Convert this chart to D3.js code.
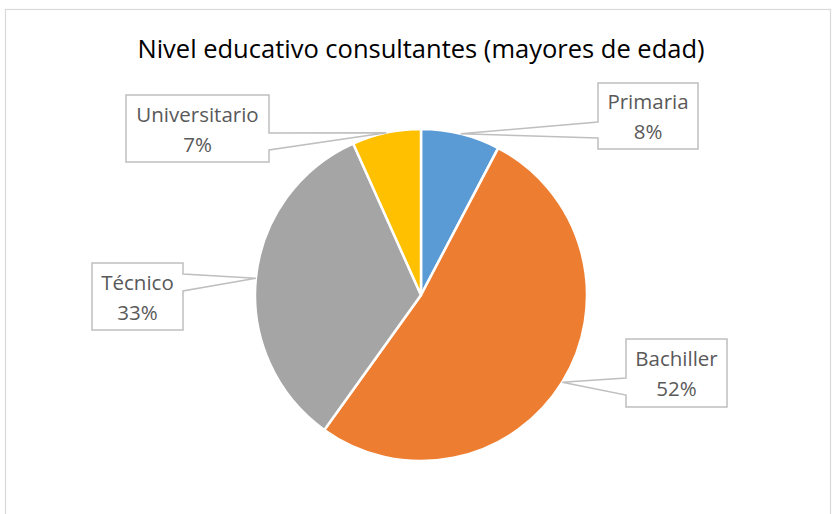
<!DOCTYPE html>
<html>
<head>
<meta charset="utf-8">
<script src="https://cdn.jsdelivr.net/npm/d3@7"></script>
<style>
  body { margin: 0; background: #fff; }
  text { font-family: "Open Sans", sans-serif; }
  .title { font-size: 25.5px; fill: #000; }
  .lbl { font-size: 20.5px; fill: #595959; }
</style>
</head>
<body>
<svg width="832" height="514"></svg>
<script>
const categories = ["Primaria","Bachiller","Técnico","Universitario"]
const values = [7.7, 52.2, 33.4, 6.7]
const colors = ["#5b9bd5","#ed7d31","#a5a5a5","#ffc000"]

// callout boxes: x, y, w, h, side of the wedge, wedge base top/bottom
const boxes = [
  {x:598, y:83,  w:100, h:66, side:"left",  b1:122, b2:138},
  {x:626, y:339, w:101, h:68, side:"left",  b1:378, b2:395},
  {x:92,  y:263, w:91,  h:67, side:"right", b1:274, b2:291},
  {x:126, y:95,  w:143, h:67, side:"right", b1:133, b2:150}
]

const svg = d3.select("svg")
const cx = 421, cy = 295, r = 166

svg.append("rect")
    .attr("x",5.5).attr("y",9.5)
    .attr("width",825).attr("height",520)
    .style("fill","none").style("stroke","#d9d9d9").style("stroke-width",1.2)

svg.append("text")
    .attr("class","title")
    .attr("x",421).attr("y",58)
    .attr("text-anchor","middle")
    .text("Nivel educativo consultantes (mayores de edad)")

const pie = d3.pie().sort(null).value(d=>d)
const arcs = pie(values)
const arc = d3.arc().innerRadius(0).outerRadius(r)

const g = svg.append("g").attr("transform",`translate(${cx},${cy})`)

g.selectAll("path.slice")
    .data(arcs)
    .enter()
    .append("path")
    .attr("class","slice")
    .attr("d",arc)
    .style("fill",(d,i)=>colors[i])
    .style("stroke","#fff")
    .style("stroke-width",2.5)

const pct = d3.format(".0%")
const total = d3.sum(values)

const labels = svg.selectAll("g.label")
    .data(arcs)
    .enter()
    .append("g")
    .attr("class","label")

labels.append("path")
    .attr("d",(d,i)=>{
        const b = boxes[i]
        const a = (d.startAngle+d.endAngle)/2
        const ax = cx + Math.sin(a)*r, ay = cy - Math.cos(a)*r
        if(b.side==="left"){
            return `M${b.x},${b.y}H${b.x+b.w}V${b.y+b.h}H${b.x}V${b.b2}L${ax},${ay}L${b.x},${b.b1}Z`
        }
        return `M${b.x},${b.y}H${b.x+b.w}V${b.b1}L${ax},${ay}L${b.x+b.w},${b.b2}V${b.y+b.h}H${b.x}Z`
    })
    .style("fill","#fff")
    .style("stroke","#bfbfbf")
    .style("stroke-width",1.5)

labels.append("text")
    .attr("class","lbl")
    .attr("x",(d,i)=>boxes[i].x+boxes[i].w/2)
    .attr("y",(d,i)=>boxes[i].y+boxes[i].h/2-7)
    .attr("text-anchor","middle")
    .text((d,i)=>categories[i])

labels.append("text")
    .attr("class","lbl")
    .attr("x",(d,i)=>boxes[i].x+boxes[i].w/2)
    .attr("y",(d,i)=>boxes[i].y+boxes[i].h/2+23)
    .attr("text-anchor","middle")
    .text((d,i)=>pct(d.value/total))
</script>
</body>
</html>
